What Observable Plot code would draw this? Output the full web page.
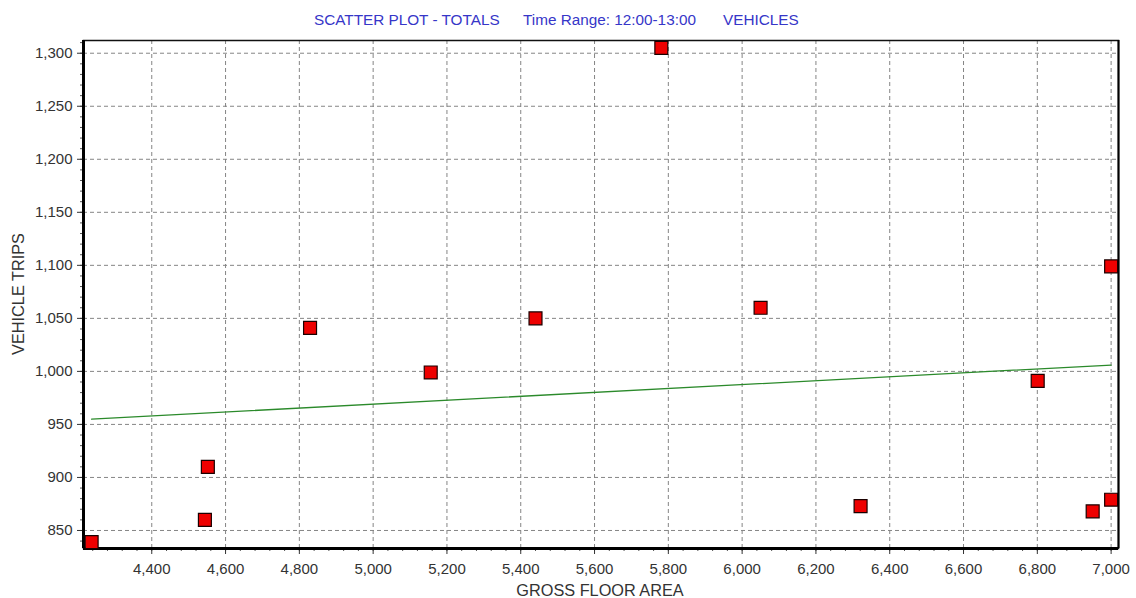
<!DOCTYPE html>
<html><head><meta charset="utf-8">
<script src="https://cdn.jsdelivr.net/npm/d3@7"></script>
<script src="https://cdn.jsdelivr.net/npm/@observablehq/plot@0.6"></script>
<style>
body{margin:0;background:#fff;font-family:"Liberation Sans",Arial,sans-serif;}
#wrap{position:relative;width:1136px;height:598px;overflow:hidden;}
.t{position:absolute;top:11px;font-size:15.3px;line-height:18px;color:#3636c8;white-space:nowrap;}
.lab{position:absolute;font-size:16.3px;line-height:18px;color:#333;white-space:nowrap;}
#chart{position:absolute;left:0;top:0;}
</style></head>
<body>
<div id="wrap">
<div id="chart"></div>
<span class="t" style="left:314px">SCATTER PLOT - TOTALS</span>
<span class="t" style="left:523px">Time Range: 12:00-13:00</span>
<span class="t" style="left:723px">VEHICLES</span>
<span class="lab" id="xlab" style="left:600px;top:581px;transform:translateX(-50%)">GROSS FLOOR AREA</span>
<span class="lab" id="ylab" style="left:18px;top:294px;transform:translate(-50%,-50%) rotate(-90deg)">VEHICLE TRIPS</span>
</div>
<script>
// data
const gfa   = [4237, 4544, 4552, 4829, 5156, 5440, 5781, 6050, 6321, 6801, 6950, 7000, 7000];
const trips = [839, 860, 910, 1041, 999, 1050, 1305, 1060, 873, 991, 868, 879, 1099];
const trendX = [4237, 7000];
const trendY = [955, 1006];
const xTicks = [4400, 4600, 4800, 5000, 5200, 5400, 5600, 5800, 6000, 6200, 6400, 6600, 6800, 7000];
const yTicks = [850, 900, 950, 1000, 1050, 1100, 1150, 1200, 1250, 1300];
const xDomain = [4215, 7020];
const yDomain = [833, 1312];

const points = gfa.map((g, i) => ({x: g, y: trips[i]}));
const trend = trendX.map((g, i) => ({x: g, y: trendY[i]}));
const xMinor = d3.range(4240, 7020, 40);
const yMinor = d3.range(840, 1312, 10);
const fmt = d3.format(",");

const grid = {stroke: "#858585", strokeOpacity: 1, strokeDasharray: "4,3", strokeWidth: 1};

const chart = Plot.plot({
  width: 1136, height: 598,
  marginLeft: 83, marginRight: 18, marginTop: 40, marginBottom: 50,
  style: {fontFamily: "Liberation Sans, Arial, sans-serif", fontSize: "15px", color: "#333", background: "white"},
  x: {domain: xDomain, label: null},
  y: {domain: yDomain, label: null},
  marks: [
    Plot.gridX(xTicks, grid),
    Plot.gridY(yTicks, grid),
    Plot.axisX(xMinor, {tickSize: 3, tickFormat: () => "", label: null, stroke: "#555"}),
    Plot.axisY(yMinor, {tickSize: 3, tickFormat: () => "", label: null, stroke: "#555"}),
    Plot.axisX(xTicks, {tickSize: 6, tickPadding: 9, tickFormat: fmt, stroke: "#333", fill: "#333", label: null}),
    Plot.axisY(yTicks, {tickSize: 6, tickPadding: 5, tickFormat: fmt, stroke: "#333", fill: "#333", label: null}),
    Plot.frame({stroke: "#111", strokeWidth: 1.5}),
    Plot.ruleX([xDomain[0]], {stroke: "#000", strokeWidth: 3}),
    Plot.ruleY([yDomain[0]], {stroke: "#000", strokeWidth: 3}),
    Plot.ruleX([xDomain[1]], {stroke: "#000", strokeWidth: 2}),
    Plot.line(trend, {x: "x", y: "y", stroke: "#2b8a2b", strokeWidth: 1.3}),
    Plot.dot(points, {x: "x", y: "y", symbol: "square", r: 7.3, fill: "#ee0000", stroke: "#1a0000", strokeWidth: 1.2})
  ]
});
document.getElementById("chart").appendChild(chart);
</script>
</body></html>
